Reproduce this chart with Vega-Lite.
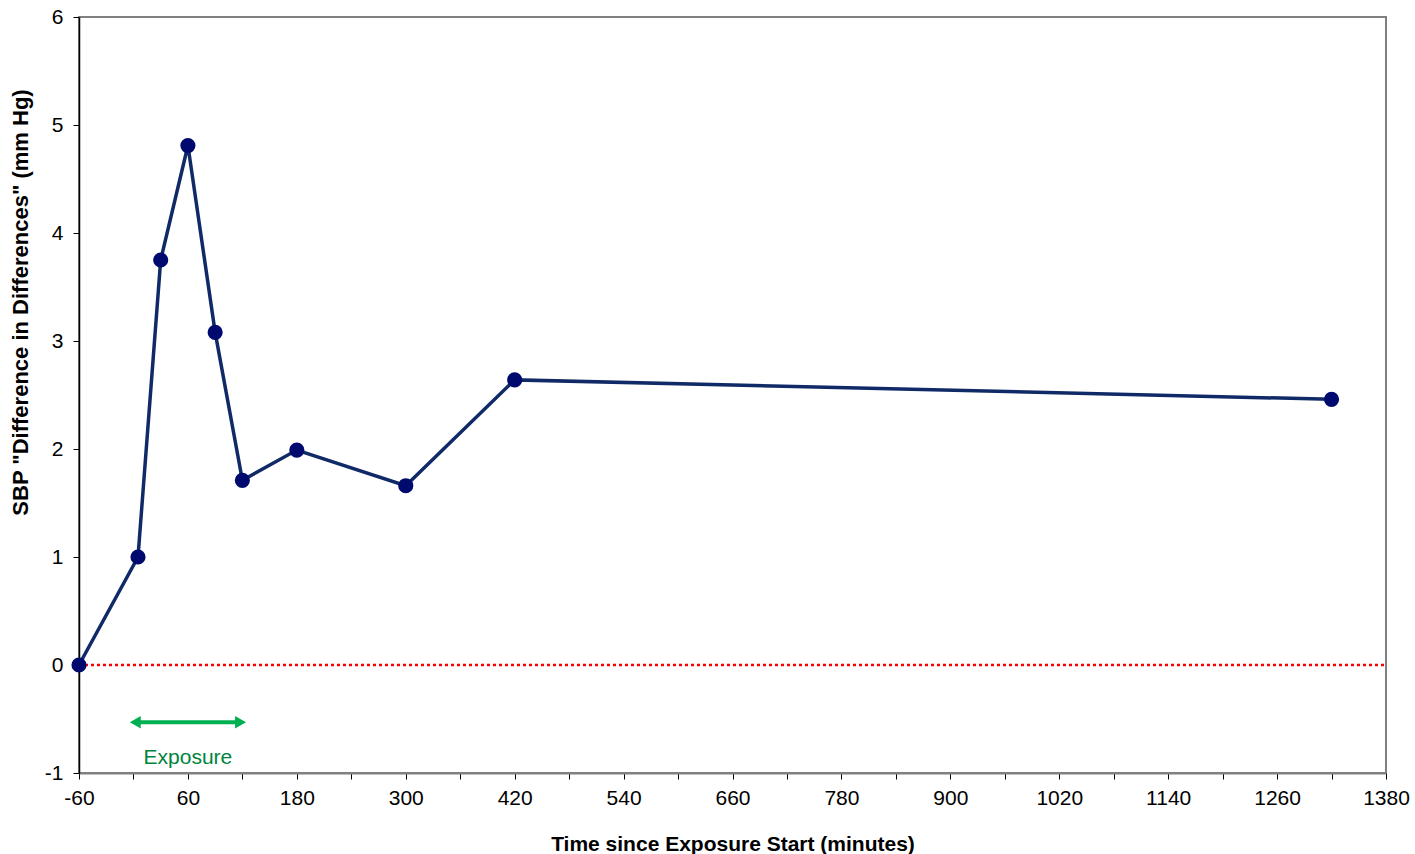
{
  "$schema": "https://vega.github.io/schema/vega-lite/v6.json",
  "width": 1307,
  "height": 756,
  "autosize": {"type": "none"},
  "padding": {"left": 79, "top": 17, "right": 29, "bottom": 81},
  "background": "white",
  "config": {
    "font": "Liberation Sans",
    "view": {"stroke": "#808080", "strokeWidth": 2},
    "axis": {"grid": false, "labelFont": "Liberation Sans", "titleFont": "Liberation Sans", "labelColor": "#000000", "titleColor": "#000000"}
  },
  "datasets": {
    "series": [
      {"t": -60, "v": 0},
      {"t": 5, "v": 1.0},
      {"t": 30, "v": 3.75},
      {"t": 60, "v": 4.81},
      {"t": 90, "v": 3.08},
      {"t": 120, "v": 1.71},
      {"t": 180, "v": 1.99},
      {"t": 300, "v": 1.66},
      {"t": 420, "v": 2.64},
      {"t": 1320, "v": 2.46}
    ],
    "zero": [{"t0": -60, "t1": 1380, "v": 0}],
    "exposure": [{"t0": 2, "t1": 118, "v": -0.53, "mid": 60, "lv": -0.86, "label": "Exposure"}],
    "heads": [
      {"t": 2, "v": -0.53, "shape": "triangle-left"},
      {"t": 118, "v": -0.53, "shape": "triangle-right"}
    ]
  },
  "encoding": {
    "x": {
      "type": "quantitative",
      "scale": {"domain": [-60, 1380], "nice": false, "zero": false},
      "axis": {
        "title": "Time since Exposure Start (minutes)",
        "titleFontSize": 21,
        "titleFontWeight": "bold",
        "titlePadding": 25,
        "labelFontSize": 21,
        "labelPadding": 8,
        "values": [-60, 0, 60, 120, 180, 240, 300, 360, 420, 480, 540, 600, 660, 720, 780, 840, 900, 960, 1020, 1080, 1140, 1200, 1260, 1320, 1380],
        "labelExpr": "(datum.value + 60) % 120 == 0 ? '' + datum.value : ''",
        "tickSize": 6,
        "tickColor": "#000000",
        "domainColor": "#808080",
        "domainWidth": 2,
        "labelFlush": false,
        "labelOverlap": false
      }
    },
    "y": {
      "type": "quantitative",
      "scale": {"domain": [-1, 6], "nice": false, "zero": false},
      "axis": {
        "title": "SBP \"Difference in Differences\" (mm Hg)",
        "titleFontSize": 22,
        "titleFontWeight": "bold",
        "titlePadding": 12,
        "titleY": 285,
        "labelFontSize": 21,
        "labelPadding": 10,
        "values": [-1, 0, 1, 2, 3, 4, 5, 6],
        "labelExpr": "'' + datum.value",
        "tickSize": 6,
        "tickColor": "#000000",
        "domainColor": "#000000",
        "domainWidth": 1.5
      }
    }
  },
  "layer": [
    {
      "data": {"name": "zero"},
      "mark": {"type": "rule", "color": "#FF0000", "strokeWidth": 2.5, "strokeDash": [3, 3]},
      "encoding": {"x": {"field": "t0"}, "x2": {"field": "t1"}, "y": {"field": "v"}}
    },
    {
      "data": {"name": "exposure"},
      "mark": {"type": "rule", "color": "#00B050", "strokeWidth": 4},
      "encoding": {"x": {"field": "t0"}, "x2": {"field": "t1"}, "y": {"field": "v"}}
    },
    {
      "data": {"name": "heads"},
      "mark": {"type": "point", "filled": true, "color": "#00B050", "size": 160, "opacity": 1},
      "encoding": {"x": {"field": "t"}, "y": {"field": "v"}, "shape": {"field": "shape", "type": "nominal", "scale": null}}
    },
    {
      "data": {"name": "exposure"},
      "mark": {"type": "text", "color": "#00843D", "fontSize": 21, "font": "Liberation Sans"},
      "encoding": {"x": {"field": "mid"}, "y": {"field": "lv"}, "text": {"field": "label"}}
    },
    {
      "data": {"name": "series"},
      "mark": {"type": "line", "color": "#0F2A66", "strokeWidth": 3.5},
      "encoding": {"x": {"field": "t"}, "y": {"field": "v"}}
    },
    {
      "data": {"name": "series"},
      "mark": {"type": "point", "filled": true, "color": "#000A6E", "size": 230, "opacity": 1},
      "encoding": {"x": {"field": "t"}, "y": {"field": "v"}}
    }
  ]
}
